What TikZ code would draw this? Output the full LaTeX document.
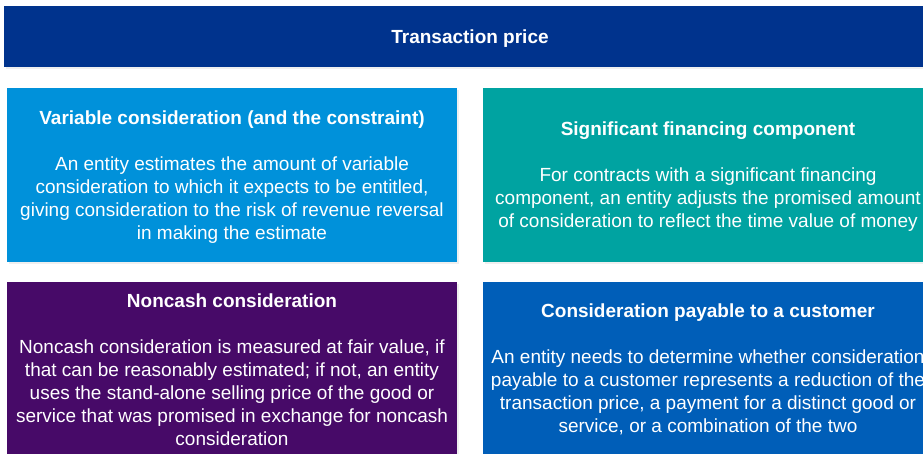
\documentclass[tikz,border=0pt]{standalone}
\usepackage{fontspec}
\setmainfont{Liberation Sans}
\usetikzlibrary{shadows}
\definecolor{navy}{HTML}{00338D}
\definecolor{kblue}{HTML}{005EB8}
\definecolor{mblue}{HTML}{0091DA}
\definecolor{kpurple}{HTML}{470A68}
\definecolor{kteal}{HTML}{00A3A1}
\newcommand{\topstrut}{\rule{0pt}{17pt}}
\begin{document}
\begin{tikzpicture}[x=1pt,y=-1pt,
  font=\fontsize{19}{23}\selectfont,
  box/.style={rectangle, inner sep=0pt, align=center, text=white,
    drop shadow={opacity=0.12, shadow xshift=1.5pt, shadow yshift=-2pt}},
  card/.style={box, minimum width=450pt}]
\useasboundingbox (0,0) rectangle (923,454);
\clip (0,0) rectangle (923,454);
\fill[white] (0,0) rectangle (923,454);
\node[box, fill=navy, minimum width=932pt, minimum height=61pt] (tp) at (470,36.5)
  {\topstrut\textbf{Transaction price}};
\node[card, fill=mblue, minimum height=174pt] (vc) at (232,175)
  {\topstrut\textbf{Variable consideration (and the constraint)}\\[23pt]
   An entity estimates the amount of variable\\
   consideration to which it expects to be entitled,\\
   giving consideration to the risk of revenue reversal\\
   in making the estimate};
\node[card, fill=kteal, minimum height=174pt] (sf) at (708,175)
  {\topstrut\textbf{Significant financing component}\\[23pt]
   For contracts with a significant financing\\
   component, an entity adjusts the promised amount\\
   of consideration to reflect the time value of money};
\node[card, fill=kpurple, minimum height=172pt] (nc) at (232,368)
  {\topstrut\textbf{Noncash consideration}\\[23pt]
   Noncash consideration is measured at fair value, if\\
   that can be reasonably estimated; if not, an entity\\
   uses the stand-alone selling price of the good or\\
   service that was promised in exchange for noncash\\
   consideration};
\node[card, fill=kblue, minimum height=172pt] (cp) at (708,368)
  {\topstrut\textbf{Consideration payable to a customer}\\[23pt]
   An entity needs to determine whether consideration\\
   payable to a customer represents a reduction of the\\
   transaction price, a payment for a distinct good or\\
   service, or a combination of the two};
\end{tikzpicture}
\end{document}
